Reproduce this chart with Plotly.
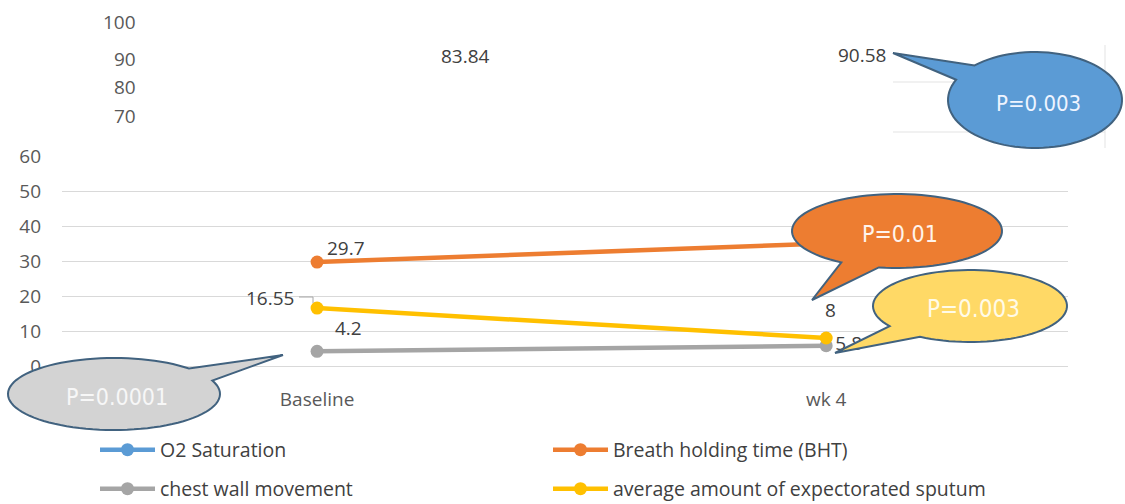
import math
import plotly.graph_objects as go

# ---------------- data ----------------
categories = ["Baseline", "wk 4"]
o2_saturation = [83.84, 90.58]
bht = [29.7, 35.0]
chest_wall = [4.2, 5.8]
sputum = [16.55, 8]
extra_tick_labels = [100, 90, 80, 70]
p_values = ["P=0.003", "P=0.01", "P=0.003", "P=0.0001"]  # O2, BHT, sputum, chest

series_names = ["O2 Saturation", "Breath holding time (BHT)",
                "chest wall movement", "average amount of expectorated sputum"]
colors = ["#5B9BD5", "#ED7D31", "#A5A5A5", "#FFC000"]

# ---------------- layout geometry (pixels) ----------------
WIDTH, HEIGHT = 1125, 504
L, R, T, B = 62, 1068, 156, 366
PW, PH = R - L, B - T
FONT = "Open Sans, Lato, DejaVu Sans, sans-serif"
NARROW = "Liberation Sans Narrow, DejaVu Sans Condensed, Liberation Sans, Arial, sans-serif"


def P(px, py):
    return (px - L) / PW, (B - py) / PH


def bubble_path(cx, cy, rx, ry, t1, t2, tip):
    pts = []
    n = 90
    for i in range(n + 1):
        t = math.radians(t2 + (t1 + 360 - t2) * i / n)
        pts.append((cx + rx * math.cos(t), cy + ry * math.sin(t)))
    pts.append(tip)
    pp = [P(x, y) for x, y in pts]
    return "M " + " L ".join(f"{x:.5f},{y:.5f}" for x, y in pp) + " Z"


fig = go.Figure()

line_w = 4.5
msize = 13
legend_of = ["legend", "legend", "legend2", "legend2"]
values = [o2_saturation, bht, chest_wall, sputum]
for name, vals, col, lg in zip(series_names, values, colors, legend_of):
    if name == "chest wall movement":
        kw = dict(mode="lines+markers+text",
                  text=[None, f"{vals[1]:g}"],
                  textposition="middle right",
                  textfont=dict(family=FONT, size=19, color="#404040"))
    else:
        kw = dict(mode="lines+markers")
    fig.add_trace(go.Scatter(
        x=categories, y=vals, name=name, legend=lg,
        line=dict(color=col, width=line_w),
        marker=dict(color=col, size=msize),
        **kw))

annotations = []
# data labels
label_specs = [
    (bht, 0, 29, 14),
    (sputum, 0, -47, 10),
    (chest_wall, 0, 31, 23),
    (sputum, 1, 4, 28),
]
for arr, i, xs, ys in label_specs:
    annotations.append(dict(x=categories[i], y=arr[i], xref="x", yref="y",
                            xanchor="center", yanchor="middle",
                            text=f"{arr[i]:g}", showarrow=False,
                            xshift=xs, yshift=ys,
                            font=dict(family=FONT, size=19, color="#404040")))

# O2 saturation values (printed above the clipped plot)
for val, (px, py) in zip(o2_saturation, [(465, 56), (862, 55)]):
    x, y = P(px, py)
    annotations.append(dict(x=x, y=y, xref="paper", yref="paper",
                            xanchor="center", yanchor="middle",
                            text=f"{val:g}", showarrow=False,
                            font=dict(family=FONT, size=19, color="#404040")))

# stray tick labels 100..70
for val, py in zip(extra_tick_labels, [22, 59, 87, 116]):
    x, y = P(138, py)
    annotations.append(dict(x=x, y=y, xref="paper", yref="paper",
                            xanchor="right", yanchor="middle",
                            text=str(val), showarrow=False,
                            font=dict(family=FONT, size=19, color="#595959")))

shapes = []
# faint remnants of gridlines at the top right
for py in [82, 132]:
    x0, y0 = P(893, py)
    x1, _ = P(1105, py)
    shapes.append(dict(type="line", xref="paper", yref="paper", x0=x0, y0=y0,
                       x1=x1, y1=y0, line=dict(color="#e3e3e3", width=1),
                       layer="below"))
x0, y0 = P(1105, 45)
_, y1 = P(1105, 148)
shapes.append(dict(type="line", xref="paper", yref="paper", x0=x0, y0=y0,
                   x1=x0, y1=y1, line=dict(color="#e3e3e3", width=1),
                   layer="below"))
# leader line for 16.55
a, b, c = P(299, 297), P(313, 297), P(313, 303)
shapes.append(dict(type="path", xref="paper", yref="paper",
                   path=f"M {a[0]},{a[1]} L {b[0]},{b[1]} L {c[0]},{c[1]}",
                   line=dict(color="#a6a6a6", width=1)))

# speech bubbles: (cx, cy, rx, ry, t1, t2, tip, fill, text, text size, text color)
bubbles = [
    (1035, 100, 87, 48, 205, 226, (893, 53), "#5B9BD5", p_values[0], 22, "#eef4ff"),
    (897, 231, 105, 37, 100, 122, (812, 300), "#ED7D31", p_values[1], 23, "#fff4ec"),
    (970, 306, 97, 36, 121, 146, (835, 353), "#FFD966", p_values[2], 24, "#fffbe8"),
    (114, 394, 106, 36, -45, -22, (283, 355), "#D3D3D3", p_values[3], 23, "#f7f7f7"),
]
for cx, cy, rx, ry, t1, t2, tip, fill, txt, ts, tc in bubbles:
    shapes.append(dict(type="path", xref="paper", yref="paper",
                       path=bubble_path(cx, cy, rx, ry, t1, t2, tip),
                       fillcolor=fill, line=dict(color="#41627f", width=2),
                       layer="above"))
    x, y = P(cx + 3, cy + 3)
    annotations.append(dict(x=x, y=y, xref="paper", yref="paper", text=txt,
                            xanchor="center", yanchor="middle",
                            showarrow=False,
                            font=dict(family=NARROW, size=ts, color=tc)))

legend_common = dict(orientation="h", xref="container", yref="container",
                     x=95 / WIDTH, xanchor="left", yanchor="middle",
                     itemwidth=55,
                     entrywidth=383, entrywidthmode="pixels",
                     font=dict(family=FONT, size=19.5, color="#404040"),
                     bgcolor="rgba(0,0,0,0)", borderwidth=0)

fig.update_layout(
    width=WIDTH, height=HEIGHT,
    margin=dict(l=L, r=WIDTH - R, t=T, b=HEIGHT - B, pad=0, autoexpand=False),
    paper_bgcolor="white", plot_bgcolor="white",
    font=dict(family=FONT, size=19, color="#595959"),
    showlegend=True,
    legend=dict(y=(HEIGHT - 450) / HEIGHT, **legend_common),
    legend2=dict(y=(HEIGHT - 489) / HEIGHT, **legend_common),
    xaxis=dict(type="category", range=[-0.501, 1.475], showgrid=False,
               showline=False, zeroline=False, ticks="outside", ticklen=16,
               tickcolor="rgba(0,0,0,0)",
               tickfont=dict(family=FONT, size=19, color="#595959")),
    yaxis=dict(range=[0, 60], dtick=10, showgrid=True, gridcolor="#d9d9d9",
               gridwidth=1, zeroline=True, zerolinecolor="#d9d9d9",
               zerolinewidth=1, showline=False, ticks="",
               ticklabelstandoff=20,
               tickfont=dict(family=FONT, size=19, color="#595959")),
    shapes=shapes,
    annotations=annotations,
)

fig.write_html("out.html")
